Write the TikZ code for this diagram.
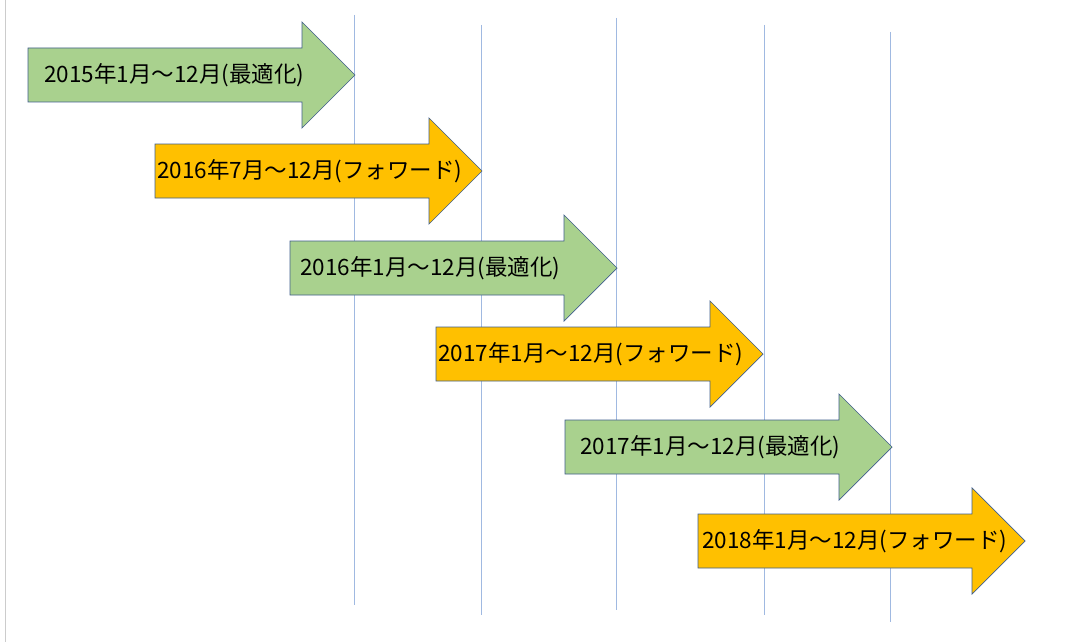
\documentclass[tikz,border=0pt]{standalone}
\usepackage{fontspec}
\setmainfont{Noto Sans CJK JP}
\begin{document}
\begin{tikzpicture}[x=1pt,y=-1pt,
  grid/.style={draw={rgb,255:red,160;green,185;blue,225}, line width=0.8pt},
  ar/.style={draw={rgb,255:red,65;green,95;blue,140}, line width=0.7pt},
  gr/.style={ar, fill={rgb,255:red,169;green,209;blue,142}},
  og/.style={ar, fill={rgb,255:red,255;green,192;blue,0}},
  lbl/.style={anchor=west, font=\fontsize{22.5}{26}\selectfont, inner sep=0pt}]
\useasboundingbox[fill=white] (0,0) rectangle (1088,642);
\draw[gray!40, line width=0.8pt] (5,0) -- (5,642);
\coordinate (v1t) at (354,15); \coordinate (v1b) at (354,605);
\coordinate (v2t) at (481,25); \coordinate (v2b) at (481,615);
\coordinate (v3t) at (616,18); \coordinate (v3b) at (616,610);
\coordinate (v4t) at (764,25); \coordinate (v4b) at (764,615);
\coordinate (v5t) at (890,32); \coordinate (v5b) at (890,622);
\foreach \i in {1,...,5} \draw[grid] (v\i t) -- (v\i b);
% #1 style, #2 x0, #3 y centre, #4 text x, #5 text, #6 name
\newcommand\tarrow[6]{%
  \draw[#1] (#2,#3-27) -- (#2+274,#3-27) -- (#2+274,#3-53) -- (#2+327,#3)
     -- (#2+274,#3+53) -- (#2+274,#3+27) -- (#2,#3+27) -- cycle;
  \node[lbl] (#6) at (#4,#3) {#5};}
\tarrow{gr}{28}{75}{44}{2015年1月～12月(最適化)}{a1}
\tarrow{og}{155}{171}{157}{2016年7月～12月(フォワード)}{a2}
\tarrow{gr}{290}{268}{300}{2016年1月～12月(最適化)}{a3}
\tarrow{og}{436}{354}{438}{2017年1月～12月(フォワード)}{a4}
\tarrow{gr}{565}{447}{580}{2017年1月～12月(最適化)}{a5}
\tarrow{og}{698}{541}{702}{2018年1月～12月(フォワード)}{a6}
\end{tikzpicture}
\end{document}
